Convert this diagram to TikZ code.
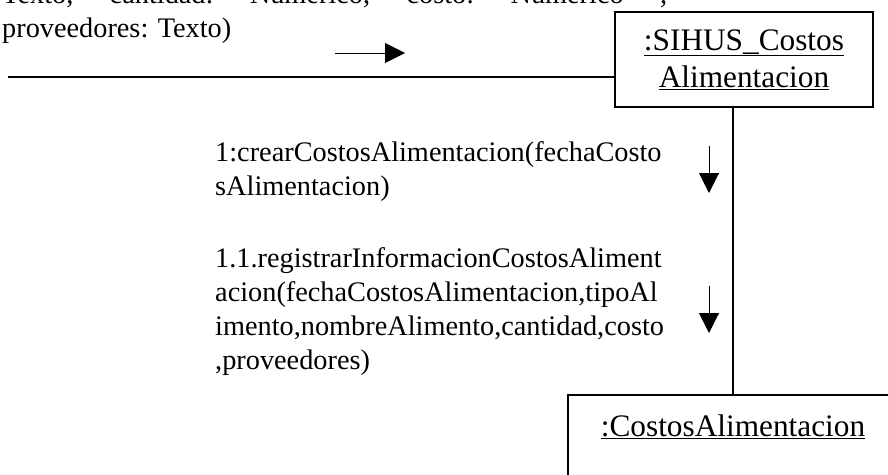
\documentclass[tikz,border=0pt]{standalone}
\usepackage{fontspec}
\setmainfont{Liberation Serif}
\usetikzlibrary{arrows.meta}

\begin{document}
\begin{tikzpicture}[x=1pt, y=-1pt,
    objbox/.style={draw, line width=1.6pt, align=center, font=\fontsize{31.3}{37}\selectfont},
    msgtext/.style={anchor=base west, inner sep=0pt, align=left, font=\fontsize{28.3}{34}\selectfont},
    link/.style={line width=1.3pt},
    msgarrow/.style={line width=1pt, -{Triangle[length=20pt,width=20pt]}}]
    \useasboundingbox (0,0) rectangle (888,474);

    % Parameters of the incoming message (cut off at the top)
    \node[msgtext] (params) at (2,37) {\hbox to 665pt{Texto,\hfill cantidad:\hfill Numerico,\hfill costo:\hfill Numerico\hfill ,}\\proveedores: Texto)};

    % Objects
    \node[objbox, minimum width=258pt, minimum height=95pt] (sihus) at (744,59.5) {\underline{:SIHUS\char95Costos}\\\underline{Alimentacion}};
    \node[objbox, anchor=base, minimum width=330pt, text height=20pt, text depth=60pt, inner ysep=21pt] (costos) at (733,436) {\underline{:CostosAlimentacion}};

    % Links
    \coordinate (actor) at (8,77);
    \draw[link] (actor) -- (actor -| sihus.west);
    \draw[link] (costos.north) -- (costos.north |- sihus.south);

    % Messages (base = baseline of the last line)
    \coordinate (flowA) at (335,53);
    \coordinate (flowB) at (405,53);
    \draw[msgarrow] (flowA) -- (flowB);

    \node[msgtext] (msgone) at (215,195) {1:crearCostosAlimentacion(fechaCosto\\sAlimentacion)};
    \coordinate (downA) at (709,146);
    \coordinate (downB) at (709,193);
    \draw[msgarrow] (downA) -- (downB);

    \node[msgtext] (msgtwo) at (215,369) {1.1.registrarInformacionCostosAliment\\acion(fechaCostosAlimentacion,tipoAl\\imento,nombreAlimento,cantidad,costo\\,proveedores)};
    \coordinate (downC) at (709,286);
    \coordinate (downD) at (709,333);
    \draw[msgarrow] (downC) -- (downD);
\end{tikzpicture}
\end{document}
